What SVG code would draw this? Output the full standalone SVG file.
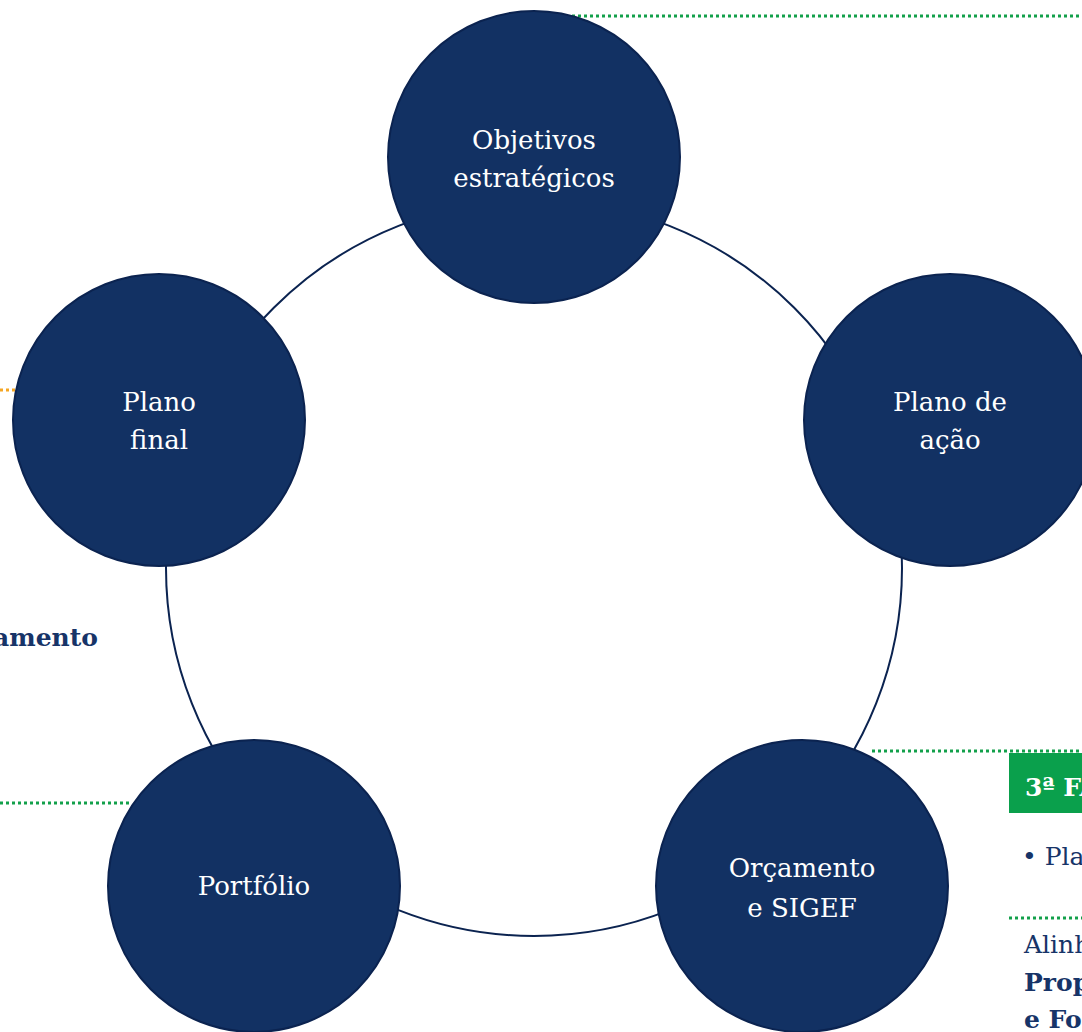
<svg xmlns="http://www.w3.org/2000/svg" width="1082" height="1032" viewBox="0 0 1082 1032">
<style>
.node{fill:#123163;stroke:#0b2350;stroke-width:2}
.lbl{font-family:"DejaVu Serif","Liberation Serif",serif;font-size:26px;fill:#ffffff;text-anchor:middle}
.side{font-family:"DejaVu Serif","Liberation Serif",serif;font-size:25px;fill:#173468}
.b{font-weight:bold}
.gdot{stroke:#12a04a;stroke-width:3;stroke-dasharray:3 3;fill:none}
.odot{stroke:#f5a623;stroke-width:3;stroke-dasharray:3 3;fill:none}
</style>
<rect width="1082" height="1032" fill="#ffffff"/>
<g id="connectors">
<circle cx="534" cy="568" r="368" fill="none" stroke="#0b2350" stroke-width="2"/>
<line class="gdot" x1="572" y1="16" x2="1082" y2="16"/>
<line class="odot" x1="0" y1="390" x2="18" y2="390"/>
<line class="gdot" x1="0" y1="803" x2="132" y2="803"/>
<line class="gdot" x1="872" y1="751" x2="1082" y2="751"/>
<line class="gdot" x1="1009" y1="918" x2="1082" y2="918"/>
</g>
<g id="side-panel">
<rect x="1009" y="753" width="80" height="60" fill="#0aa04c"/>
<text class="side b" x="1025" y="796" style="fill:#ffffff">3ª FA</text>
<text class="side" x="1022" y="865">• Pla</text>
<text class="side" x="1024" y="953">Alinh</text>
<text class="side b" x="1024" y="991">Prop</text>
<text class="side b" x="1024" y="1028">e Fo</text>
<text class="side b" x="98" y="646" text-anchor="end">amento</text>
</g>
<g id="node-objetivos">
<circle class="node" cx="534" cy="157" r="146"/>
<text class="lbl" x="534" y="149">Objetivos</text>
<text class="lbl" x="534" y="187">estratégicos</text>
</g>
<g id="node-plano-acao">
<circle class="node" cx="950" cy="420" r="146"/>
<text class="lbl" x="950" y="411">Plano de</text>
<text class="lbl" x="950" y="449">ação</text>
</g>
<g id="node-orcamento">
<circle class="node" cx="802" cy="886" r="146"/>
<text class="lbl" x="802" y="877">Orçamento</text>
<text class="lbl" x="802" y="917">e SIGEF</text>
</g>
<g id="node-portfolio">
<circle class="node" cx="254" cy="886" r="146"/>
<text class="lbl" x="254" y="895">Portfólio</text>
</g>
<g id="node-plano-final">
<circle class="node" cx="159" cy="420" r="146"/>
<text class="lbl" x="159" y="411">Plano</text>
<text class="lbl" x="159" y="449">final</text>
</g>
</svg>
